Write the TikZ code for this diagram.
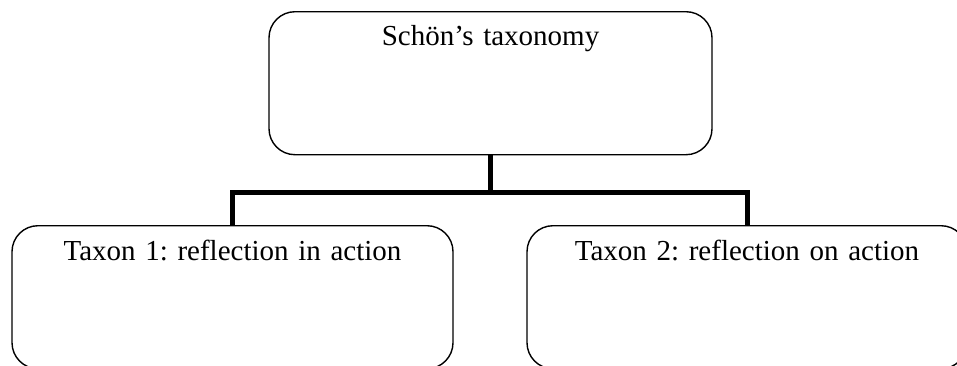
\documentclass[tikz,border=0pt]{standalone}
\usepackage{fontspec}
\setmainfont{Liberation Serif}
\frenchspacing
\begin{document}
\begin{tikzpicture}[x=1pt,y=-1pt,
  taxbox/.style={draw=black, line width=1.4pt, rounded corners=26pt, inner xsep=0pt, inner ysep=0pt,
    font=\fontsize{29}{33}\selectfont\frenchspacing, align=center, anchor=north},
  link/.style={line width=5pt, miter limit=10}]
\useasboundingbox (0,0) rectangle (957,365);
\node[taxbox, minimum width=443pt, text width=443pt, text height=34pt, text depth=109pt] (top) at (490.5,11) {Schön’s taxonomy};
\node[taxbox, minimum width=441pt, text width=441pt, text height=35pt, text depth=108pt] (left) at (232.5,225) {Taxon 1: reflection in action};
\node[taxbox, minimum width=440pt, text width=440pt, text height=35pt, text depth=108pt] (right) at (747,225) {Taxon 2: reflection on action};
\draw[link] (top.south) -- (top.south |- 0,192) coordinate (j);
\draw[link] (left.north) |- (j) -| (right.north);
\end{tikzpicture}
\end{document}
